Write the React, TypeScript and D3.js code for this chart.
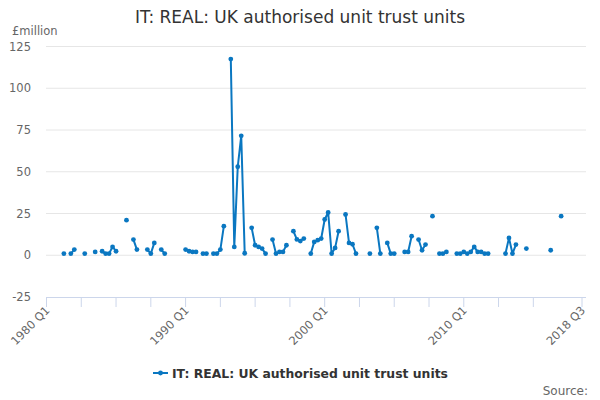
import * as d3 from 'd3';
import React from 'react';

// quarterly values, £million, 1980 Q1 onwards (null = no data)
const values1980s: (number | null)[] = [
  null, null, null, null, null, 1, null, 1, 3.4, null,
  null, 1, null, null, 2, null, 2.4, 1, 1, 5,
  2.4, null, null, 21, null, 9.4, 3.4, null, null, 3.4,
  1, 7.4, null, 3.4, 1, null, null, null, null, null,
];
const values1990s: (number | null)[] = [
  3.4, 2.4, 2, 2, null, 1, 1, null, 1, 1,
  3.4, 17.4, null, 117.5, 5, 53, 71.5, 1.2, null, 16.4,
  6, 5, 4, 1, null, 9.4, 1, 2, 2, 6,
  null, 14.4, 9.5, 8.5, 10, null, 1, 8, 9, 10,
];
const values2000s: (number | null)[] = [
  21.4, 25.6, 1, 4.4, 14.4, null, 24.4, 7.4, 6.6, 1,
  null, null, null, 1, null, 16.4, 1, null, 7.4, 1,
  1, null, null, 2, 2, 11.4, null, 9.4, 3, 6.4,
  null, 23.4, null, 1, 1, 2, null, null, 1, 1,
];
const values2010s: (number | null)[] = [
  2, 1, 2, 5, 2, 2, 1, 1, null, null,
  null, null, 1, 10.4, 1, 6.4, null, null, 4, null,
  null, null, null, null, null, 3, null, null, 23.4, null,
  null, null, null, null, null,
];

const values = [...values1980s, ...values1990s, ...values2000s, ...values2010s];
const quarters = values.map((_, i) => `${1980 + Math.floor(i / 4)} Q${(i % 4) + 1}`);

const yTicks = [-25, 0, 25, 50, 75, 100, 125];
const labelledQuarters = ['1980 Q1', '1990 Q1', '2000 Q1', '2010 Q1', '2018 Q3'];

const title = 'IT: REAL: UK authorised unit trust units';
const unitLabel = '£million';
const sourceLabel = 'Source:';

const font = '"DejaVu Sans", Verdana, sans-serif';
const blue = '#0a77c1';

export default function App() {
  const width = 600;
  const height = 400;
  const plotLeft = 46;
  const plotRight = 586;

  const x = d3.scaleLinear().domain([0, values.length - 1]).range([46.5, 582]);
  const y = d3.scaleLinear().domain([-25, 125]).range([297, 46.5]);

  const line = d3
    .line<number | null>()
    .defined((d) => d !== null)
    .x((_, i) => x(i))
    .y((d) => y(d as number));

  // tick every 10 quarters, plus the last quarter
  const last = values.length - 1;
  const tickIdx = d3.range(0, last, 10).filter((i) => last - i > 5).concat([last]);
  const labelIdx = labelledQuarters.map((q) => quarters.indexOf(q));

  return (
    <svg
      width={width}
      height={height}
      style={{ position: 'absolute', left: 0, top: 0, background: '#fff' }}
      fontFamily={font}
    >
      <text x={300} y={23} textAnchor="middle" fontSize={17} fill="#333">
        {title}
      </text>
      <text x={12} y={35} fontSize={11.5} fill="#666">
        {unitLabel}
      </text>

      {yTicks.map((t) => (
        <g key={t}>
          {t !== -25 && (
            <line x1={plotLeft} x2={plotRight} y1={y(t)} y2={y(t)} stroke="#e6e6e6" strokeWidth={1} />
          )}
          <text x={31} y={y(t) + 4} textAnchor="end" fontSize={11.5} fill="#666">
            {t}
          </text>
        </g>
      ))}

      <line x1={plotLeft} x2={plotRight} y1={y(-25) + 0.5} y2={y(-25) + 0.5} stroke="#ccd6eb" />
      {tickIdx.map((i) => (
        <line key={i} x1={x(i)} x2={x(i)} y1={y(-25)} y2={y(-25) + 10} stroke="#ccd6eb" />
      ))}
      {labelIdx.map((i) => (
        <text
          key={i}
          transform={`translate(${x(i) + 4},${y(-25) + 14}) rotate(-45)`}
          textAnchor="end"
          fontSize={11.5}
          fill="#666"
        >
          {quarters[i]}
        </text>
      ))}

      <path d={line(values) ?? ''} fill="none" stroke={blue} strokeWidth={2} strokeLinejoin="round" />
      {values.map((v, i) =>
        v === null ? null : <circle key={i} cx={x(i)} cy={y(v)} r={2.4} fill={blue} />
      )}

      <g transform="translate(153,373)">
        <line x1={0} x2={15} y1={0} y2={0} stroke={blue} strokeWidth={2} />
        <circle cx={7.5} cy={0} r={2.4} fill={blue} />
        <text x={19} y={4.5} fontSize={12.4} fontWeight="bold" fill="#333">
          {title}
        </text>
      </g>

      <text x={588} y={395} textAnchor="end" fontSize={12} fill="#666">
        {sourceLabel}
      </text>
    </svg>
  );
}
